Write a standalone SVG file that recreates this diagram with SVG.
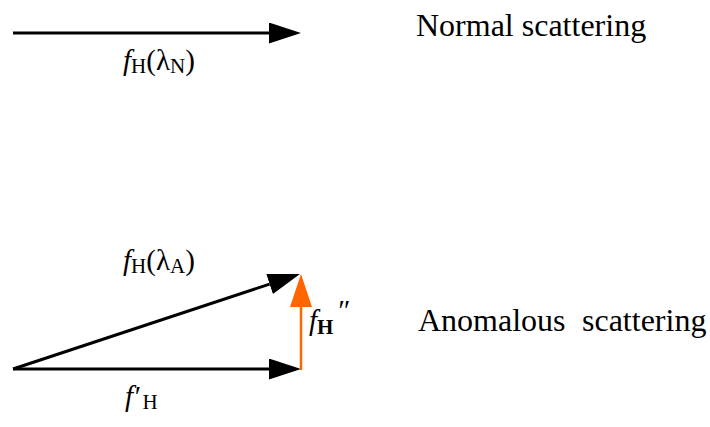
<svg xmlns="http://www.w3.org/2000/svg" width="710" height="427" viewBox="0 0 710 427">
<style>
text{font-family:"Liberation Serif","Times New Roman",serif;fill:#000}
.big{font-size:32px}
.lab{font-size:29px}
.sub{font-size:21px}
.it{font-style:italic}
.vec{stroke:#000;stroke-width:3;fill:none}
.ora{stroke:#FF6600;stroke-width:2.5;fill:none}
</style>
<defs>
<marker id="hb" markerUnits="userSpaceOnUse" markerWidth="33" markerHeight="22" refX="0" refY="10.5" orient="auto">
<path d="M0,0 L32,10.5 L0,21 z" fill="#000"/>
</marker>
<marker id="ho" markerUnits="userSpaceOnUse" markerWidth="34" markerHeight="24" refX="0" refY="11" orient="auto">
<path d="M0,0 L33,11 L0,22 z" fill="#FF6600"/>
</marker>
</defs>
<g id="connectors">
<line id="normal" class="vec" x1="13" y1="33" x2="269" y2="33" marker-end="url(#hb)"/>
<line id="fHA" class="vec" x1="13" y1="369" x2="269.6" y2="284.05" marker-end="url(#hb)"/>
<line id="fprime" class="vec" x1="13" y1="369" x2="269" y2="369" marker-end="url(#hb)"/>
<line id="fdprime" class="ora" x1="301" y1="370" x2="301" y2="307" marker-end="url(#ho)"/>
</g>
<g id="label-normal">
<text class="big" x="416" y="36">Normal scattering</text>
</g>
<g id="label-anomalous">
<text class="big" x="418" y="331">Anomalous</text>
<text class="big" x="582" y="331">scattering</text>
</g>
<g id="label-fHN">
<text class="lab" x="123" y="70"><tspan class="it">f</tspan><tspan class="sub" dy="3">H</tspan><tspan dy="-3">(λ</tspan><tspan class="sub" dy="3">N</tspan><tspan dy="-3">)</tspan></text>
</g>
<g id="label-fHA">
<text class="lab" x="123" y="270"><tspan class="it">f</tspan><tspan class="sub" dy="3">H</tspan><tspan dy="-3">(λ</tspan><tspan class="sub" dy="3">A</tspan><tspan dy="-3">)</tspan></text>
</g>
<g id="label-fdd">
<text class="lab" x="309" y="330"><tspan class="it">f</tspan><tspan class="sub" font-weight="bold" dy="4">H</tspan><tspan class="it" dx="3" dy="-14">″</tspan></text>
</g>
<g id="label-fp">
<text class="lab" x="125" y="406"><tspan class="it">f′</tspan><tspan class="sub" dx="3" dy="3">H</tspan></text>
</g>
</svg>
